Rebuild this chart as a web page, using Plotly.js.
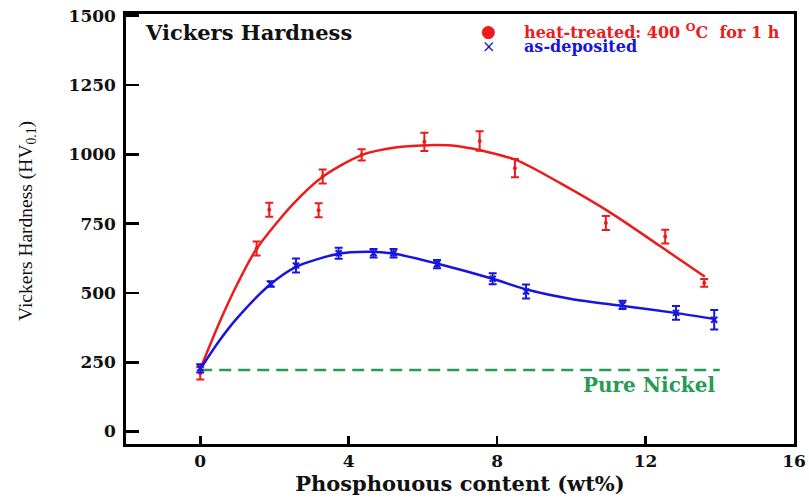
<!DOCTYPE html>
<html>
<head>
<meta charset="utf-8">
<script src="https://cdn.plot.ly/plotly-3.0.1.min.js"></script>
<style>
  html, body { margin: 0; padding: 0; background: #fff; }
  #chart { width: 809px; height: 498px; }
</style>
</head>
<body>
<div id="chart"></div>
<script>
// Measured hardness, heat-treated deposits (400 °C, 1 h)
const heatP   = [0, 1.52, 1.86, 3.19, 3.30, 4.35, 6.04, 7.53, 8.48, 10.93, 12.53, 13.58];
const heatHV  = [210, 660, 800, 798, 920, 998, 1045, 1048, 950, 752, 703, 536];
const heatErr = [22, 25, 25, 25, 25, 20, 33, 35, 33, 25, 25, 14];

// Measured hardness, as-deposited
const asP   = [0, 1.90, 2.58, 3.73, 4.67, 5.21, 6.38, 7.88, 8.78, 11.38, 12.82, 13.85];
const asHV  = [228, 532, 599, 643, 643, 643, 604, 551, 505, 457, 428, 403];
const asErr = [15, 10, 25, 20, 15, 15, 15, 20, 25, 15, 25, 35];

// Fitted trend lines
const heatFitP  = [0, 0.5, 1.0, 1.5, 2.5, 3.3, 4.35, 5.3, 6.2, 7.0, 8.5, 9.7, 11.0, 12.4, 13.6];
const heatFitHV = [225, 388, 532, 655, 820, 919, 997, 1025, 1033, 1028, 980, 896, 794, 668, 558];
const asFitP  = [0, 0.5, 1.0, 1.9, 2.6, 3.7, 4.5, 5.2, 6.4, 7.9, 8.8, 10.0, 11.4, 12.8, 13.9];
const asFitHV = [225, 325, 410, 532, 595, 640, 648, 642, 605, 550, 512, 478, 453, 428, 405];

// Pure nickel reference level
const nickelP  = [0, 14];
const nickelHV = [222, 222];

const xTicks = [0, 4, 8, 12, 16];
const yTicks = [0, 250, 500, 750, 1000, 1250, 1500];

const RED = '#ec1c1c';
const BLUE = '#1616e0';
const GREEN = '#279a55';
const SERIF = '"DejaVu Serif", "Liberation Serif", serif';

const traces = [
  { x: nickelP, y: nickelHV, type: 'scatter', mode: 'lines',
    line: { color: GREEN, width: 2.5, dash: '12px,7px' }, hoverinfo: 'skip' },
  { x: heatFitP, y: heatFitHV, type: 'scatter', mode: 'lines',
    line: { color: RED, width: 2.5, shape: 'spline', smoothing: 0.8 }, hoverinfo: 'skip' },
  { x: asFitP, y: asFitHV, type: 'scatter', mode: 'lines',
    line: { color: BLUE, width: 2.5, shape: 'spline', smoothing: 0.8 }, hoverinfo: 'skip' },
  { x: heatP, y: heatHV, type: 'scatter', mode: 'markers', name: 'heat-treated',
    marker: { color: RED, size: 4, symbol: 'circle' },
    error_y: { type: 'data', array: heatErr, color: RED, thickness: 2, width: 4 } },
  { x: asP, y: asHV, type: 'scatter', mode: 'markers', name: 'as-deposited',
    marker: { color: BLUE, size: 6, symbol: 'x-thin', line: { color: BLUE, width: 2 } },
    error_y: { type: 'data', array: asErr, color: BLUE, thickness: 2, width: 4 } }
];

const layout = {
  width: 809, height: 498,
  margin: { l: 126, r: 15, t: 14, b: 54 },
  paper_bgcolor: '#fff', plot_bgcolor: '#fff',
  showlegend: false,
  font: { family: SERIF, color: '#000' },
  xaxis: {
    range: [-2, 16], tickvals: xTicks, ticktext: xTicks.map(String),
    showgrid: false, zeroline: false,
    showline: true, mirror: true, linecolor: '#000', linewidth: 2.7,
    ticks: 'inside', ticklen: 8, tickwidth: 2.7, tickcolor: '#000',
    tickfont: { family: SERIF, size: 17, weight: 'bold', color: '#111' },
    title: { text: 'Phosphouous content (wt%)', standoff: 6,
             font: { family: SERIF, size: 21, weight: 'bold', color: '#111' } }
  },
  yaxis: {
    range: [-45, 1506], tickvals: yTicks, ticktext: yTicks.map(String),
    showgrid: false, zeroline: false,
    showline: true, mirror: true, linecolor: '#000', linewidth: 2.7,
    ticks: 'inside', ticklen: 13, tickwidth: 2.7, tickcolor: '#000',
    ticklabelstandoff: 4,
    tickfont: { family: SERIF, size: 17, weight: 'bold', color: '#111' }
  },
  annotations: [
    // vertical axis title
    { x: -0.148, y: 0.519, xref: 'paper', yref: 'paper', xanchor: 'center', yanchor: 'middle',
      textangle: -90, text: 'Vickers Hardness (HV<sub>0.1</sub>)', showarrow: false,
      font: { family: '"Liberation Serif", serif', size: 19.5, color: '#111' } },
    { x: -1.54, y: 1441, xref: 'x', yref: 'y', xanchor: 'left', yanchor: 'middle',
      text: 'Vickers Hardness', showarrow: false,
      font: { family: SERIF, size: 21, weight: 'bold', color: '#111' } },
    { x: 7.76, y: 1445, xref: 'x', yref: 'y', xanchor: 'center', yanchor: 'middle',
      text: '●', showarrow: false, font: { family: SERIF, size: 17, color: RED } },
    { x: 8.67, y: 1445, xref: 'x', yref: 'y', xanchor: 'left', yanchor: 'middle',
      text: 'heat-treated: 400 <sup>O</sup>C&nbsp;&nbsp;for 1 h', showarrow: false,
      font: { family: SERIF, size: 16, weight: 'bold', color: RED } },
    { x: 7.76, y: 1388, xref: 'x', yref: 'y', xanchor: 'center', yanchor: 'middle',
      text: '×', showarrow: false, font: { family: SERIF, size: 16, color: BLUE } },
    { x: 8.67, y: 1388, xref: 'x', yref: 'y', xanchor: 'left', yanchor: 'middle',
      text: 'as-deposited', showarrow: false,
      font: { family: SERIF, size: 16, weight: 'bold', color: BLUE } },
    { x: 13.93, y: 168, xref: 'x', yref: 'y', xanchor: 'right', yanchor: 'middle',
      text: 'Pure Nickel', showarrow: false,
      font: { family: SERIF, size: 20, weight: 'bold', color: GREEN } }
  ]
};

Plotly.newPlot('chart', traces, layout, { displayModeBar: false, staticPlot: true });
</script>
</body>
</html>
